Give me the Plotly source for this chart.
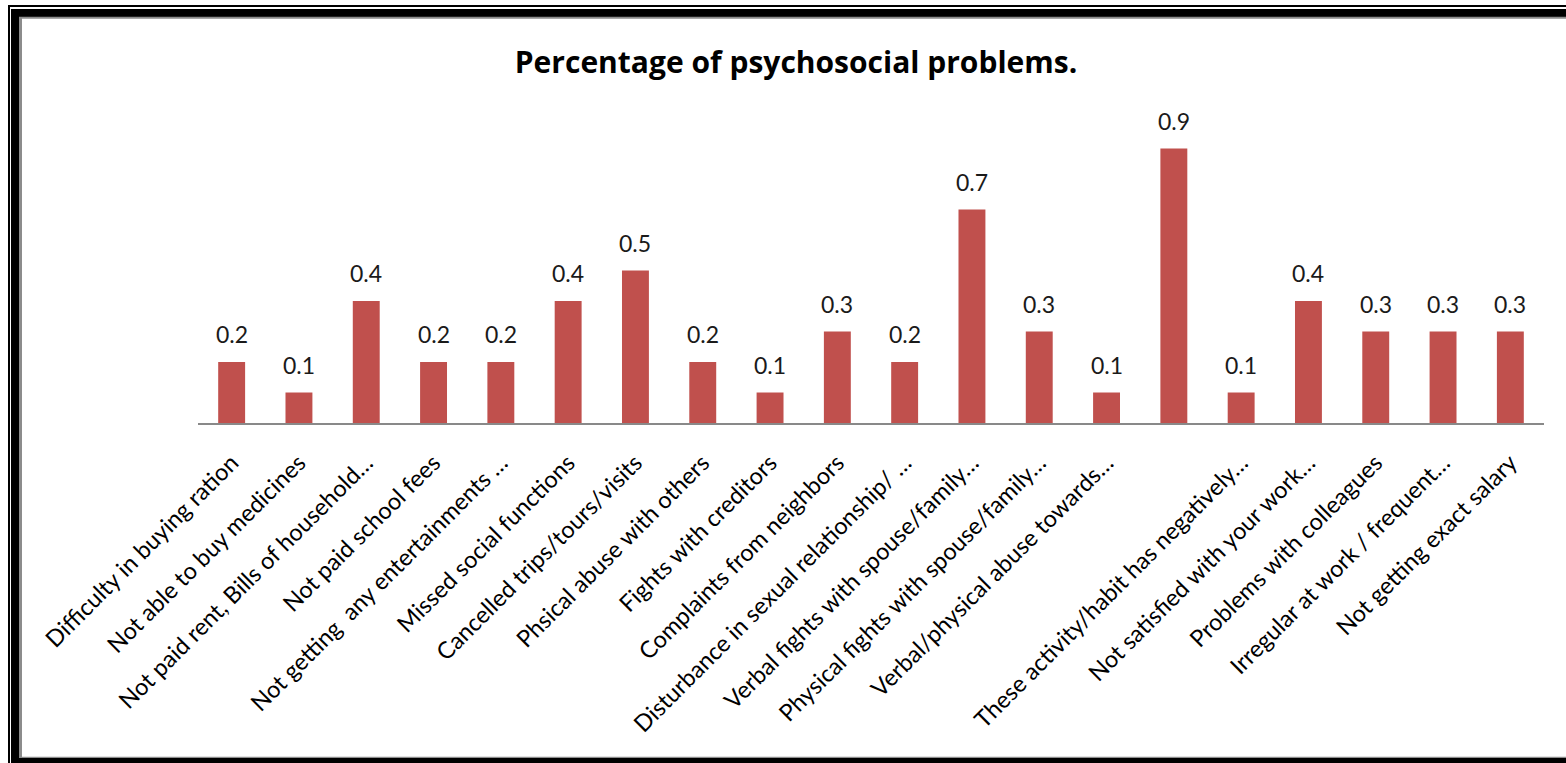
import plotly.graph_objects as go

# Category names along the x axis (the fifteenth slot has no printed name)
categories = [
    "Difficulty in buying ration",
    "Not able to buy medicines",
    "Not paid rent, Bills of household…",
    "Not paid school fees",
    "Not getting  any entertainments …",
    "Missed social functions",
    "Cancelled trips/tours/visits",
    "Phsical abuse with others",
    "Fights with creditors",
    "Complaints from neighbors",
    "Disturbance in sexual relationship/ …",
    "Verbal fights with spouse/family…",
    "Physical fights with spouse/family…",
    "Verbal/physical abuse towards…",
    "",
    "These activity/habit has negatively…",
    "Not satisfied with your work…",
    "Problems with colleagues",
    "Irregular at work / frequent…",
    "Not getting exact salary",
]
values = [0.2, 0.1, 0.4, 0.2, 0.2, 0.4, 0.5, 0.2, 0.1, 0.3,
          0.2, 0.7, 0.3, 0.1, 0.9, 0.1, 0.4, 0.3, 0.3, 0.3]

W, H = 1566, 763
ML, MR, MT, MB = 198, 22, 118, 340
PW, PH = W - ML - MR, H - MT - MB


def px(xp):
    return (xp - ML) / PW


def py(yp):
    return 1 - (yp - MT) / PH


FONT = "Lato, 'Open Sans', sans-serif"
TITLE_FONT = "'Open Sans', Lato, sans-serif"
BAR = "#C0504D"

fig = go.Figure()
fig.add_trace(go.Bar(
    x=list(range(len(values))),
    y=values,
    marker=dict(color=BAR, line=dict(width=0)),
    hoverinfo="skip",
))

# Value labels above each bar
for i, v in enumerate(values):
    fig.add_annotation(
        x=i, y=v, text=f"{v:.1f}", showarrow=False,
        xref="x", yref="y", yanchor="bottom", yshift=12,
        font=dict(family=FONT, size=23, color="#1a1a1a"),
    )

# Border frame: thin outer line, thick black band, grey inner edge
frame = [
    dict(type="rect", xref="paper", yref="paper",
         x0=px(11), x1=px(1700), y0=py(9), y1=py(766),
         fillcolor="black", line=dict(width=0), layer="below"),
    dict(type="rect", xref="paper", yref="paper",
         x0=px(19), x1=px(1700), y0=py(16.7), y1=py(758),
         fillcolor="#8c8c8c", line=dict(width=0), layer="below"),
    dict(type="rect", xref="paper", yref="paper",
         x0=px(22), x1=px(1700), y0=py(18.7), y1=py(756.7),
         fillcolor="white", line=dict(width=0), layer="below"),
    dict(type="rect", xref="paper", yref="paper",
         x0=px(9), x1=px(1700), y0=py(6), y1=py(800),
         fillcolor="rgba(0,0,0,0)", line=dict(width=2, color="black"), layer="below"),
]

fig.update_layout(
    width=W, height=H,
    margin=dict(l=ML, r=MR, t=MT, b=MB),
    paper_bgcolor="white", plot_bgcolor="rgba(0,0,0,0)",
    showlegend=False,
    bargap=0.6,
    shapes=frame,
    title=dict(
        text="<b>Percentage of psychosocial problems.</b>",
        x=796 / W, xref="container", xanchor="center",
        y=1 - 62 / H, yref="container", yanchor="middle",
        font=dict(family=TITLE_FONT, size=30, color="black"),
    ),
    xaxis=dict(
        tickmode="array",
        tickvals=list(range(len(values))),
        ticktext=categories,
        range=[-0.5, len(values) - 0.5],
        tickangle=-45,
        tickfont=dict(family=FONT, size=23.5, color="black"),
        ticklabelstandoff=15,
        showline=True, linecolor="#898989", linewidth=1.5,
        ticks="", showgrid=False, zeroline=False,
        automargin=False,
        fixedrange=True,
    ),
    yaxis=dict(
        range=[0, 1], visible=False, showgrid=False, zeroline=False,
        automargin=False, fixedrange=True,
    ),
)

fig.write_html("out.html", config={"displayModeBar": False})
